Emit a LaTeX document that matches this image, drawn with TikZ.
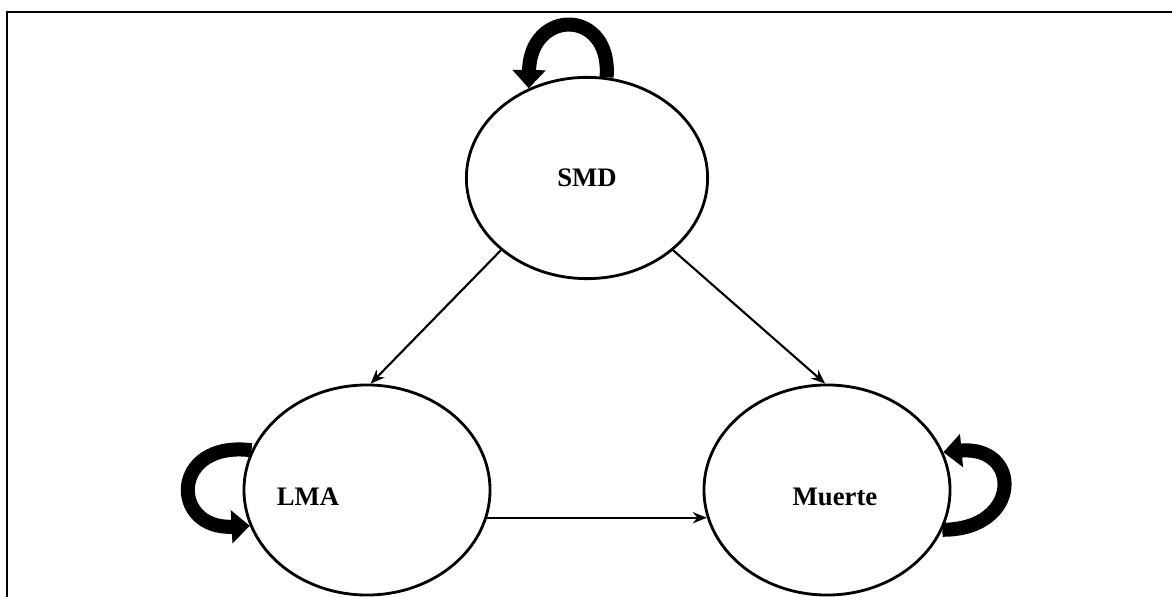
\documentclass[tikz,border=0pt]{standalone}
\usepackage{fontspec}
\setmainfont{Liberation Serif}
\usetikzlibrary{arrows.meta,shapes.geometric}

\tikzset{
  state/.style={draw, ellipse, line width=2pt, inner sep=0pt},
  flow/.style={line width=1.5pt, -{Stealth[length=10pt, width=8pt]}},
  selfloop/.style={line width=10pt, -{Triangle[length=13pt, width=23pt]}},
  tag/.style={font=\fontsize{19}{23}\selectfont\bfseries}
}

\begin{document}
\begin{tikzpicture}[x=0.025cm, y=-0.025cm]
  \useasboundingbox (0,0) rectangle (1172,597);
  \clip (0,0) rectangle (1172,597);

  % Frame
  \draw[line width=2pt] (7,620) -- (7,12) -- (1190,12);

  % States
  \node[state, minimum width=6.03cm, minimum height=5.03cm] (smd) at (587,178) {};
  \node[state, minimum width=6.15cm, minimum height=5.25cm] (lma) at (367,490) {};
  \node[state, minimum width=6.15cm, minimum height=5.25cm] (muerte) at (827,490) {};

  % Labels
  \node[tag] (smdtxt) at (smd) {SMD};
  \node[tag] (lmatxt) at (308,497) {LMA};
  \node[tag] (muertetxt) at (835,497) {Muerte};

  % Transitions
  \draw[flow] (smd.220) -- (lma.88);
  \draw[flow] (smd.320) -- (muerte.91);
  \draw[flow] (lma.-13) -- (muerte.193);

  % Self loops
  \draw[selfloop] (smd.79) .. controls (612,8) and (530,8) .. (smd.123);
  \draw[selfloop] (lma.161) .. controls (170,440) and (170,530) .. (lma.197);
  \draw[selfloop] (muerte.341) .. controls (1022,530) and (1022,445) .. (muerte.18);
\end{tikzpicture}
\end{document}
